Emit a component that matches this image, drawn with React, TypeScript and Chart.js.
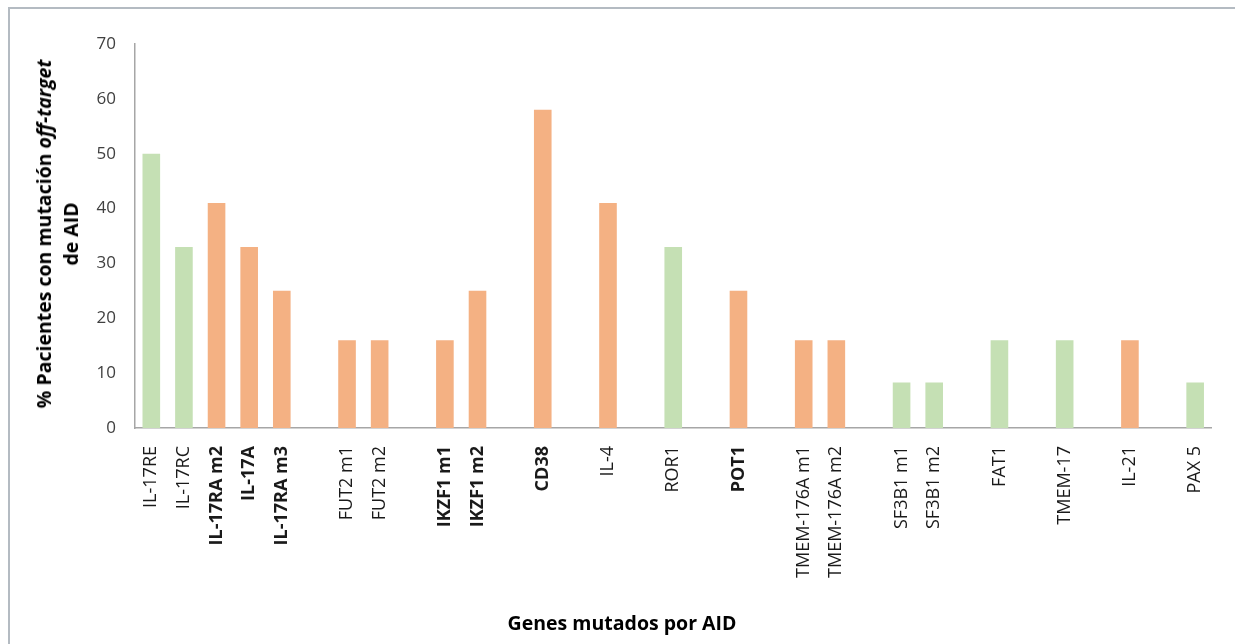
import React, { useEffect, useRef } from 'react';
import { Chart, registerables } from 'chart.js';

Chart.register(...registerables);

// Gene categories (empty strings are the gaps between groups)
const categories: string[] = [
  'IL-17RE', 'IL-17RC', 'IL-17RA m2', 'IL-17A', 'IL-17RA m3', '',
  'FUT2 m1', 'FUT2 m2', '',
  'IKZF1 m1', 'IKZF1 m2', '',
  'CD38', '',
  'IL-4', '',
  'ROR1', '',
  'POT1', '',
  'TMEM-176A m1', 'TMEM-176A m2', '',
  'SF3B1 m1', 'SF3B1 m2', '',
  'FAT1', '',
  'TMEM-17', '',
  'IL-21', '',
  'PAX 5',
];

// % of patients with off-target AID mutation
const values: (number | null)[] = [
  50, 33, 41, 33, 25, null,
  16, 16, null,
  16, 25, null,
  58, null,
  41, null,
  33, null,
  25, null,
  16, 16, null,
  8.3, 8.3, null,
  16, null,
  16, null,
  16, null,
  8.3,
];

// colour group per category: 'g' = green, 'o' = orange, '' = gap
const groups: string[] = [
  'g', 'g', 'o', 'o', 'o', '',
  'o', 'o', '',
  'o', 'o', '',
  'o', '',
  'o', '',
  'g', '',
  'o', '',
  'o', 'o', '',
  'g', 'g', '',
  'g', '',
  'g', '',
  'o', '',
  'g',
];

const boldGenes: string[] = ['IL-17RA m2', 'IL-17A', 'IL-17RA m3', 'IKZF1 m1', 'IKZF1 m2', 'CD38', 'POT1'];

const yMin = 0;
const yMax = 70;
const yStep = 10;

const xTitle = 'Genes mutados por AID';

const GREEN = '#c5e0b4';
const ORANGE = '#f4b183';
const AXIS = '#a6a6a6';

export default function App() {
  const canvasRef = useRef<HTMLCanvasElement | null>(null);

  useEffect(() => {
    if (!canvasRef.current) return;
    const chart = new Chart(canvasRef.current, {
      type: 'bar',
      data: {
        labels: categories,
        datasets: [
          {
            data: values,
            backgroundColor: groups.map((g) => (g === 'g' ? GREEN : ORANGE)),
            borderWidth: 0,
            categoryPercentage: 1,
            barPercentage: 0.54,
          },
        ],
      },
      options: {
        responsive: false,
        animation: false,
        devicePixelRatio: 1,
        layout: { padding: { top: 44, right: 16, left: 0, bottom: 0 } },
        plugins: {
          legend: { display: false },
          tooltip: { enabled: false },
          title: { display: false },
        },
        scales: {
          x: {
            grid: { display: false, drawTicks: false },
            border: { display: true, color: AXIS, width: 1.5 },
            ticks: {
              autoSkip: false,
              maxRotation: 90,
              minRotation: 90,
              padding: 18,
              color: '#1a1a1a',
              font: (ctx: any) => ({
                family: '"Open Sans"',
                size: 18,
                weight: boldGenes.includes(categories[ctx.index]) ? 'bold' : 'normal',
              }),
            },
            afterFit: (axis: any) => {
              axis.height = 644 - 428;
            },
          },
          y: {
            min: yMin,
            max: yMax,
            grid: { display: false, drawTicks: false },
            border: { display: true, color: AXIS, width: 1.5 },
            ticks: {
              stepSize: yStep,
              padding: 19,
              color: '#404040',
              font: { family: '"Open Sans"', size: 17 },
            },
            afterFit: (axis: any) => {
              axis.width = 135;
            },
          },
        },
      },
    });
    return () => chart.destroy();
  }, []);

  return (
    <div
      style={{
        position: 'fixed',
        left: 0,
        top: 0,
        width: 1235,
        height: 644,
        background: '#ffffff',
        overflow: 'hidden',
      }}
    >
      <div
        style={{
          position: 'absolute',
          left: 8,
          top: 7,
          width: 1400,
          height: 800,
          borderTop: '2px solid #b4bbc2',
          borderLeft: '2px solid #b4bbc2',
        }}
      />
      <canvas ref={canvasRef} width={1235} height={644} style={{ display: 'block', position: 'absolute', left: 0, top: 0 }} />
      <div
        style={{
          position: 'absolute',
          left: 57,
          top: 234,
          transform: 'translate(-50%, -50%) rotate(-90deg)',
          whiteSpace: 'nowrap',
          textAlign: 'center',
          fontFamily: '"Open Sans"',
          fontWeight: 'bold',
          fontSize: 19.5,
          lineHeight: '27px',
          color: '#000',
        }}
      >
        % Pacientes con mutación <i>off-target</i>
        <br />
        de AID
      </div>
      <div
        style={{
          position: 'absolute',
          left: 622,
          top: 622,
          transform: 'translate(-50%, -50%)',
          whiteSpace: 'nowrap',
          fontFamily: '"Open Sans"',
          fontWeight: 'bold',
          fontSize: 19.5,
          color: '#000',
        }}
      >
        {xTitle}
      </div>
    </div>
  );
}
